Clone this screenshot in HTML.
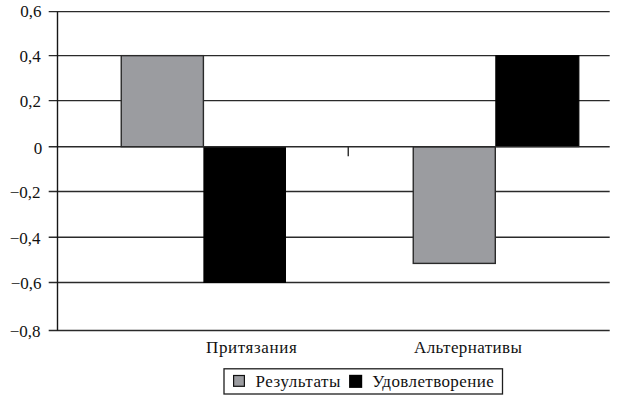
<!DOCTYPE html>
<html><head><meta charset="utf-8">
<style>
html,body{margin:0;padding:0;background:#fff;width:620px;height:400px;overflow:hidden}
svg{display:block}
text{font-family:"Liberation Serif",serif;font-size:17px;fill:#111}
</style></head><body>
<svg width="620" height="400" viewBox="0 0 620 400">
<g stroke="#2a2a2a" stroke-width="1.4" fill="none">
<line x1="48.7" y1="11.65" x2="609.7" y2="11.65"/>
<line x1="48.7" y1="55.65" x2="609.7" y2="55.65"/>
<line x1="48.7" y1="100.6" x2="609.7" y2="100.6"/>
<line x1="48.7" y1="191.5" x2="609.7" y2="191.5"/>
<line x1="48.7" y1="237.2" x2="609.7" y2="237.2"/>
<line x1="48.7" y1="282.5" x2="609.7" y2="282.5"/>
<line x1="48.7" y1="330.45" x2="609.7" y2="330.45"/>
</g>
<rect x="121.25" y="55.65" width="82.15" height="91.05" fill="#9b9ca0" stroke="#2a2a2a" stroke-width="1.4"/>
<rect x="203.9" y="146.7" width="81.6" height="135.8" fill="#000" stroke="#000" stroke-width="1"/>
<rect x="413.25" y="146.7" width="82.05" height="116.7" fill="#9b9ca0" stroke="#2a2a2a" stroke-width="1.4"/>
<rect x="495.8" y="55.65" width="83.1" height="91.05" fill="#000" stroke="#000" stroke-width="1"/>
<g stroke="#2a2a2a" stroke-width="1.4" fill="none">
<line x1="48.7" y1="146.75" x2="609.7" y2="146.75"/>
<line x1="57.5" y1="11.65" x2="57.5" y2="330.45" stroke="#161616"/>
<line x1="348.25" y1="146.75" x2="348.25" y2="156.2"/>
</g>
<g text-anchor="end">
<text x="41.5" y="17.2">0,6</text>
<text x="40.7" y="62.2">0,4</text>
<text x="41" y="106.6">0,2</text>
<text x="42.3" y="153.7">0</text>
<text x="40.5" y="197.8">−0,2</text>
<text x="40.5" y="243.6">−0,4</text>
<text x="41.5" y="289">−0,6</text>
<text x="40.5" y="336.8">−0,8</text>
</g>
<text x="206" y="353.3" letter-spacing="0.62">Притязания</text>
<text x="414" y="353.3" letter-spacing="0.4">Альтернативы</text>
<rect x="224" y="368.8" width="278.5" height="25.2" fill="none" stroke="#1e1e1e" stroke-width="1.3"/>
<rect x="233.6" y="375.5" width="10.8" height="10.8" fill="#9b9ca0" stroke="#111" stroke-width="1.2"/>
<rect x="349.1" y="374.8" width="13.1" height="13.1" fill="#000"/>
<text x="255.6" y="386.8" letter-spacing="0.5">Результаты</text>
<text x="372.3" y="386.8" letter-spacing="0.4">Удовлетворение</text>
</svg>
</body></html>
